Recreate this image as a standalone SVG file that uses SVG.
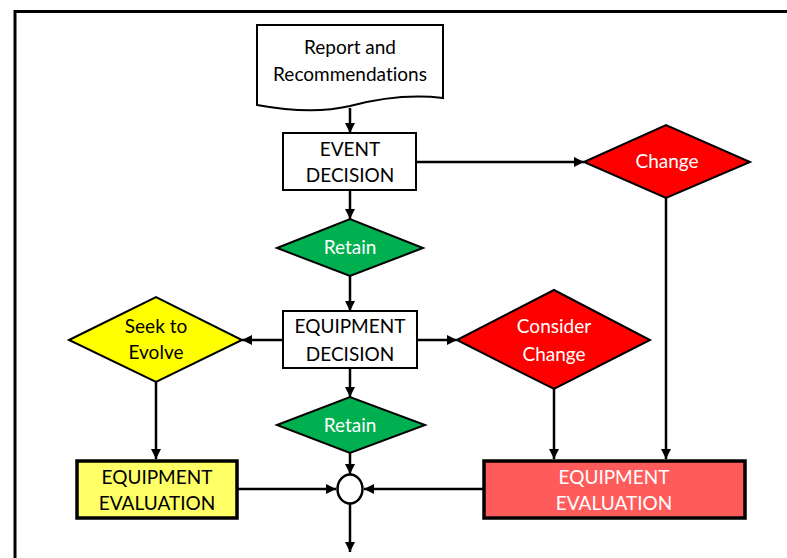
<svg xmlns="http://www.w3.org/2000/svg" width="787" height="558" viewBox="0 0 787 558">
<style>
text{font-family:"Lato","Liberation Sans",sans-serif;font-size:19px;text-anchor:middle;font-variant-ligatures:none}
.k{fill:#000}
.w{fill:#fff}
.box{fill:#fff;stroke:#000;stroke-width:2}
.ev{stroke:#000;stroke-width:3.5}
.dia{stroke:#000;stroke-width:2}
.c line,.c path{stroke:#000;stroke-width:2.5;fill:none}
</style>
<defs>
<marker id="ah" viewBox="0 0 10 10" refX="10" refY="5" markerWidth="4" markerHeight="4" orient="auto" markerUnits="strokeWidth">
<path d="M0,0 L10,5 L0,10 z" fill="#000"/>
</marker>
</defs>
<rect width="787" height="558" fill="#fff"/>
<path d="M15,560 V11.5 H790" fill="none" stroke="#000" stroke-width="3"/>

<g class="c">
<line x1="350" y1="108" x2="350" y2="133" marker-end="url(#ah)"/>
<line x1="416" y1="162" x2="584" y2="162" marker-end="url(#ah)"/>
<line x1="666" y1="198" x2="666" y2="459" marker-end="url(#ah)"/>
<line x1="350" y1="190" x2="350" y2="219" marker-end="url(#ah)"/>
<line x1="350" y1="276" x2="350" y2="311" marker-end="url(#ah)"/>
<line x1="283" y1="340" x2="242" y2="340" marker-end="url(#ah)"/>
<line x1="417" y1="340" x2="457" y2="340" marker-end="url(#ah)"/>
<line x1="156" y1="382" x2="156" y2="459" marker-end="url(#ah)"/>
<line x1="554" y1="389" x2="554" y2="459" marker-end="url(#ah)"/>
<line x1="350" y1="368" x2="350" y2="397" marker-end="url(#ah)"/>
<line x1="350" y1="453" x2="350" y2="474" marker-end="url(#ah)"/>
<line x1="237" y1="489" x2="336" y2="489" marker-end="url(#ah)"/>
<line x1="484" y1="489" x2="364" y2="489" marker-end="url(#ah)"/>
<line x1="350" y1="504" x2="350" y2="552" marker-end="url(#ah)"/>
</g>

<g id="report">
<path d="M257,25 H443 V98 C410,94 380,98 350,106 C320,113 290,111 257,105 Z" fill="#fff" stroke="#000" stroke-width="2"/>
<text x="350" y="54" class="k">Report and</text>
<text x="350" y="81" class="k">Recommendations</text>
</g>

<g id="event-decision">
<rect x="283" y="133" width="133" height="57" class="box"/>
<text x="350" y="156" class="k">EVENT</text>
<text x="350" y="182" class="k">DECISION</text>
</g>

<g id="change">
<polygon points="584,162 666,125 750,162 666,198" fill="#ff0000" class="dia"/>
<text x="667" y="168" class="w">Change</text>
</g>

<g id="retain1">
<polygon points="277,248 350,219 423,248 350,276" fill="#00b050" class="dia"/>
<text x="350" y="254" class="w">Retain</text>
</g>

<g id="equipment-decision">
<rect x="283" y="311" width="134" height="57" class="box"/>
<text x="350" y="333" class="k">EQUIPMENT</text>
<text x="350" y="361" class="k">DECISION</text>
</g>

<g id="seek">
<polygon points="69,340 156,297 242,340 156,382" fill="#ffff00" class="dia"/>
<text x="156" y="333" class="k">Seek to</text>
<text x="156" y="359" class="k">Evolve</text>
</g>

<g id="consider">
<polygon points="457,340 554,290 650,340 554,389" fill="#ff0000" class="dia"/>
<text x="554" y="333" class="w">Consider</text>
<text x="554" y="361" class="w">Change</text>
</g>

<g id="retain2">
<polygon points="277,425 350,397 425,425 350,453" fill="#00b050" class="dia"/>
<text x="350" y="432" class="w">Retain</text>
</g>

<g id="junction">
<ellipse cx="350" cy="489" rx="12.5" ry="14.5" fill="#fff" stroke="#000" stroke-width="2.5"/>
</g>

<g id="eval-yellow">
<rect x="77" y="461" width="160" height="57" fill="#ffff66" class="ev"/>
<text x="157" y="484" class="k">EQUIPMENT</text>
<text x="157" y="510" class="k">EVALUATION</text>
</g>

<g id="eval-red">
<rect x="484" y="461" width="261" height="57" fill="#ff5b5b" class="ev"/>
<text x="614" y="484" class="w">EQUIPMENT</text>
<text x="614" y="510" class="w">EVALUATION</text>
</g>
</svg>
